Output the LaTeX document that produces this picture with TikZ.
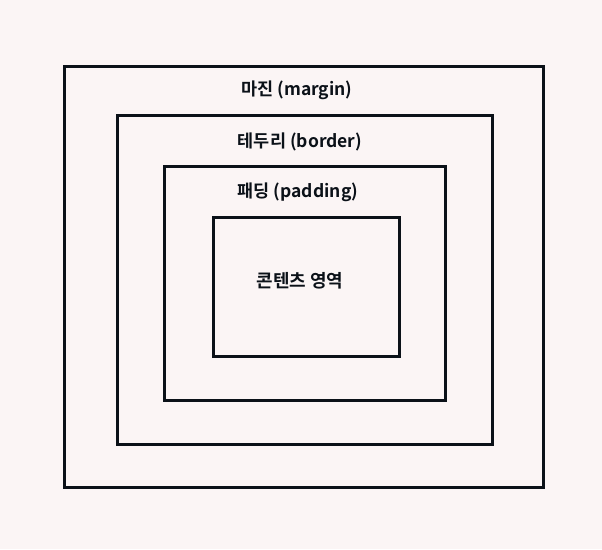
\documentclass[tikz,border=0pt]{standalone}
\usepackage{fontspec}
\newfontfamily\kr{Noto Sans CJK KR Bold}
\definecolor{bg}{HTML}{FBF5F5}
\definecolor{ink}{HTML}{0B1118}
\begin{document}
\begin{tikzpicture}[x=1pt,y=-1pt,
  box/.style={draw=ink,line width=3pt},
  lbl/.style={text=ink,font=\kr\fontsize{17.5}{20}\selectfont,inner sep=0pt},
  big/.style={text=ink,font=\kr\fontsize{18}{22}\selectfont,inner sep=0pt}]
\fill[bg] (0,0) rectangle (602,549);
\useasboundingbox (0,0) rectangle (602,549);
\draw[box] (64.5,66.5) rectangle (543.5,487.5);
\draw[box] (117.5,115.5) rectangle (492.5,444.5);
\draw[box] (164.5,166.5) rectangle (445.5,400.5);
\draw[box] (213.5,217.5) rectangle (399.5,356.5);
\node[lbl] (m) at (297,90) {마진 (margin)};
\node[lbl] (b) at (300,142) {테두리 (border)};
\node[lbl] (p) at (298,192) {패딩 (padding)};
\node[big] (c) at (300,281) {콘텐츠 영역};
\end{tikzpicture}
\end{document}
